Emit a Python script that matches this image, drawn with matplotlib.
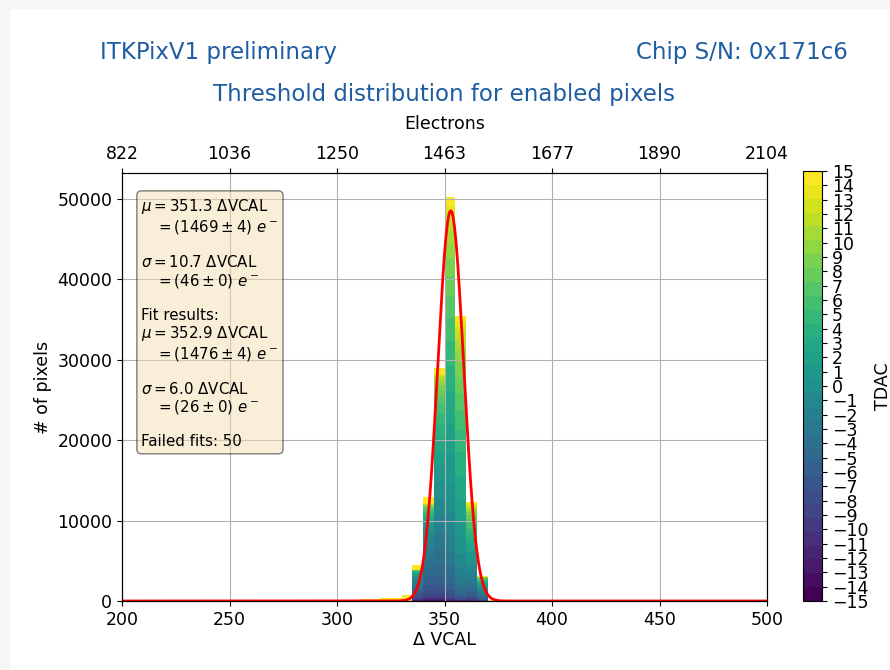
import numpy as np
import matplotlib
matplotlib.use("Agg")
from matplotlib import pyplot as plt
from matplotlib.patches import Rectangle
from matplotlib.colors import Normalize

# TDAC values (stack order, bottom -> top)
tdac = list(range(-15, 16))
bin_width = 5

# pixels per TDAC in each threshold bin (bin left edge in DVCAL)
b335 = [20, 20, 30, 40, 60, 80, 120, 200, 280, 330, 360, 370, 360, 320, 270,
        230, 190, 150, 120, 90, 70, 50, 40, 30, 20, 15, 10, 10, 5, 5, 600]
b340 = [40, 40, 60, 80, 120, 180, 280, 450, 750, 1000, 1100, 1200, 1150, 1000, 850,
        750, 550, 450, 350, 350, 300, 250, 200, 150, 120, 100, 80, 60, 50, 40, 800]
b345 = [40, 40, 60, 90, 130, 200, 300, 500, 800, 1100, 1400, 1700, 2000, 2200, 2200,
        2100, 2000, 1800, 1600, 1600, 1400, 1200, 1000, 800, 600, 450, 350, 250, 150, 100, 800]
b350 = [30, 30, 40, 50, 80, 120, 180, 300, 500, 800, 1000, 1300, 1700, 2200, 2800,
        3300, 3800, 3900, 3800, 3300, 3100, 2900, 2700, 2500, 2200, 1900, 1600, 1300, 1000, 800, 1000]
b355 = [15, 15, 20, 25, 40, 60, 90, 130, 200, 320, 480, 680, 920, 1250, 1650,
        2000, 2300, 2500, 2900, 2900, 2750, 2400, 2200, 2000, 1800, 1500, 1200, 1000, 800, 600, 700]
b360 = [15, 15, 20, 30, 50, 70, 110, 170, 260, 360, 460, 560, 650, 740, 820,
        850, 870, 850, 800, 750, 680, 600, 520, 440, 370, 300, 240, 190, 150, 120, 300]
b365 = [5, 5, 8, 10, 15, 25, 40, 60, 100, 140, 170, 200, 220, 240, 250,
        240, 230, 210, 190, 160, 130, 100, 80, 60, 40, 30, 20, 15, 10, 10, 50]
main_edges = [335, 340, 345, 350, 355, 360, 365]

# bins that only hold TDAC = 15 pixels
sat_edges = [310, 315, 320, 325, 330, 370]
sat_counts = [200, 200, 330, 330, 750, 150]

# summary numbers
mean_dvcal, mean_e, mean_err = 351.3, 1469, 4
sigma_dvcal, sigma_e, sigma_err = 10.7, 46, 0
fit_mu, fit_mu_e, fit_mu_err = 352.9, 1476, 4
fit_sigma, fit_sigma_e, fit_sigma_err = 6.0, 26, 0
fit_amp = 48500
failed_fits = 50

top_ticks = [200, 250, 300, 350, 400, 450, 500]
top_labels = ["822", "1036", "1250", "1463", "1677", "1890", "2104"]

fig = plt.figure(figsize=(8.9, 6.7), dpi=100)
fig.patch.set_facecolor("#f6f6f4")
fig.patches.append(Rectangle((10 / 890, 0), 1, 1 - 9 / 670, transform=fig.transFigure,
                             facecolor="white", edgecolor="none", zorder=-10))

ax = fig.add_axes([0.1371, 0.103, 0.7247, 0.6388])
cmap = plt.get_cmap("viridis", 31)
norm = Normalize(-15, 15)

counts = np.array([b335, b340, b345, b350, b355, b360, b365])
bottom = np.zeros(len(main_edges))
for i, t in enumerate(tdac):
    ax.bar(main_edges, counts[:, i], width=bin_width, bottom=bottom, align="edge",
           color=cmap(norm(t)), linewidth=0)
    bottom += counts[:, i]
ax.bar(sat_edges, sat_counts, width=bin_width, align="edge", color=cmap(norm(15)), linewidth=0)

x = np.linspace(200, 500, 2000)
ax.plot(x, fit_amp * np.exp(-(x - fit_mu) ** 2 / (2 * fit_sigma ** 2)), color="red", lw=2)

fs = 12.5
ax.set_xlim(200, 500)
ax.set_ylim(0, 53200)
ax.grid(True)
ax.tick_params(labelsize=fs)
ax.set_xlabel("Δ VCAL", fontsize=fs, labelpad=2)
ax.set_ylabel("# of pixels", fontsize=fs)

ax2 = ax.twiny()
ax2.set_xlim(ax.get_xlim())
ax2.set_xticks(top_ticks)
ax2.set_xticklabels(top_labels)
ax2.tick_params(labelsize=fs)
ax2.set_xlabel("Electrons", fontsize=fs, labelpad=12)

txt = (f"$\\mu = {mean_dvcal}$ ΔVCAL\n   $= ({mean_e} \\pm {mean_err})\\ e^-$\n\n"
       f"$\\sigma = {sigma_dvcal}$ ΔVCAL\n   $= ({sigma_e} \\pm {sigma_err})\\ e^-$\n\n"
       f"Fit results:\n$\\mu = {fit_mu}$ ΔVCAL\n   $= ({fit_mu_e} \\pm {fit_mu_err})\\ e^-$\n\n"
       f"$\\sigma = {fit_sigma}$ ΔVCAL\n   $= ({fit_sigma_e} \\pm {fit_sigma_err})\\ e^-$\n\n"
       f"Failed fits: {failed_fits}")
ax.text(0.03, 0.943, txt, transform=ax.transAxes, fontsize=10.8, va="top", linespacing=1.12,
        bbox=dict(boxstyle="round", facecolor="wheat", alpha=0.5))

cax = fig.add_axes([0.9022, 0.103, 0.0213, 0.6418])
sm = plt.cm.ScalarMappable(norm=norm, cmap=cmap)
cb = fig.colorbar(sm, cax=cax, ticks=tdac)
cb.ax.tick_params(labelsize=fs)
cb.set_label("TDAC", fontsize=fs, labelpad=4)

blue = "#1f5da3"
fig.text(100 / 890, 1 - 53 / 670, "ITKPixV1 preliminary", color=blue, fontsize=16.5, va="center")
fig.text(848 / 890, 1 - 53 / 670, "Chip S/N: 0x171c6", color=blue, fontsize=16.5, va="center", ha="right")
fig.text(444 / 890, 1 - 95 / 670, "Threshold distribution for enabled pixels", color=blue,
         fontsize=16.5, va="center", ha="center")

fig.savefig("out.png", dpi=100)
